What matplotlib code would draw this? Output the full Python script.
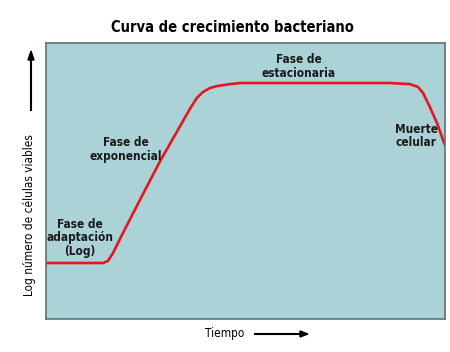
import numpy as np
import matplotlib.pyplot as plt

# curve (time 0-100, log cells 0-10)
tiempo = [0, 14.3, 15.5, 16.8, 19.3, 23.6, 28.6, 36.1, 37.8, 39.3, 41.1, 42.9, 46.1, 48.6,
          86.2, 91.2, 93.2, 94.5, 96.2, 98.0, 99.5, 100]
log_celulas = [2.03, 2.03, 2.10, 2.39, 3.12, 4.33, 5.72, 7.62, 8.01, 8.22, 8.37, 8.44, 8.51, 8.55,
               8.55, 8.51, 8.41, 8.19, 7.68, 7.10, 6.49, 6.30]

fases = ["Fase de\nadaptación\n(Log)", "Fase de\nexponencial", "Fase de\nestacionaria", "Muerte\ncelular"]
fases_x = [8.5, 20.05, 63.3, 87.5]
fases_y = [2.95, 6.14, 9.15, 6.63]
fases_ha = ["center", "center", "center", "left"]

plt.rcParams['font.family'] = ['DejaVu Sans']
plt.rcParams['font.stretch'] = 'condensed'

fig = plt.figure(figsize=(4.5, 3.52), dpi=100)
ax = fig.add_axes([46/450, 1-319/352, 399/450, 276/352])
ax.set_facecolor('#aad2d7')
for s in ax.spines.values():
    s.set_color('#5f7274')
    s.set_linewidth(1.2)

ax.plot(tiempo, log_celulas, color='#e3171f', lw=1.9, solid_joinstyle='round')
ax.set_xlim(0, 100)
ax.set_ylim(0, 10)
ax.set_xticks([])
ax.set_yticks([])

for t, x, y, ha in zip(fases, fases_x, fases_y, fases_ha):
    ax.text(x, y, t, ha=ha, va='center', fontsize=8.5, fontweight='bold',
            color='#1a1a1a', linespacing=1.05, fontstretch='condensed')

fig.text(232/450, 1-27/352, "Curva de crecimiento bacteriano", ha='center', va='center',
         fontsize=10.5, fontweight='bold', fontstretch='condensed')
fig.text(30/450, 1-215/352, "Log número de células viables", ha='center', va='center',
         rotation=90, fontsize=8.5, fontstretch='condensed')
fig.text(225/450, 1-333/352, "Tiempo", ha='center', va='center', fontsize=8.5,
         fontstretch='condensed')

fig.add_artist(plt.Line2D([31/450, 31/450], [1-110/352, 1-58/352], color='black', lw=1.5))
fig.patches.append(plt.Polygon([[28/450, 1-60/352], [34/450, 1-60/352], [31/450, 1-51/352]],
                               closed=True, color='black', transform=fig.transFigure))
fig.add_artist(plt.Line2D([255/450, 302/450], [1-334/352, 1-334/352], color='black', lw=1.5))
fig.patches.append(plt.Polygon([[300/450, 1-331/352], [300/450, 1-337/352], [308/450, 1-334/352]],
                               closed=True, color='black', transform=fig.transFigure))

fig.savefig('out.png', dpi=100, facecolor='white')
